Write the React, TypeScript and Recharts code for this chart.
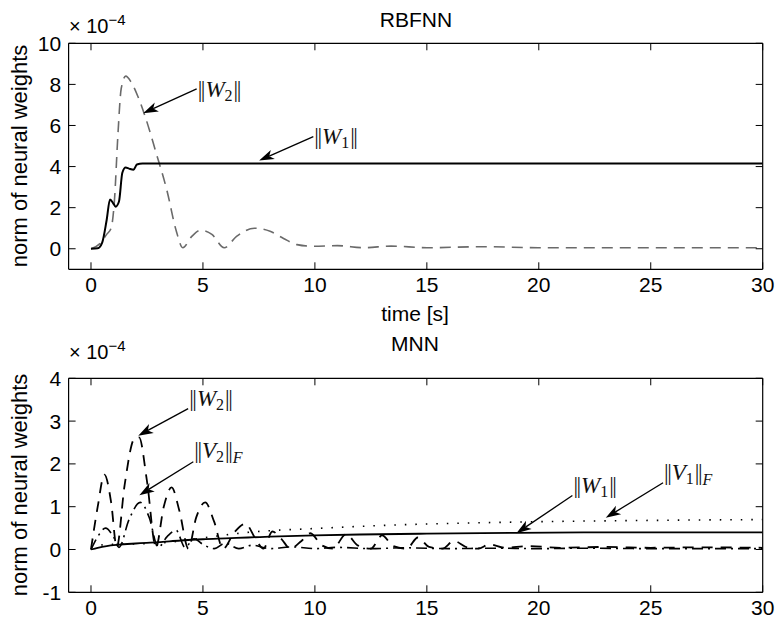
import React from 'react';
import { LineChart, Line, XAxis, YAxis, ReferenceLine } from 'recharts';

const FONT = "'Liberation Sans', Arial, Helvetica, sans-serif";
const SERIF = "'Liberation Serif', 'DejaVu Serif', serif";

// ticks
const timeTicks = [0, 5, 10, 15, 20, 25, 30];
const rbfTicks = [0, 2, 4, 6, 8, 10];
const mnnTicks = [-1, 0, 1, 2, 3, 4];

// RBFNN: ||W1|| (solid)
const rbfW1Time = [0, 0.3, 0.5, 0.7, 0.85, 1.0, 1.1, 1.25, 1.4, 1.55, 1.7, 1.9, 2.05, 2.3, 5, 10, 20, 30];
const rbfW1Val = [0, 0.02, 0.3, 1.4, 2.4, 2.2, 2.05, 2.3, 3.7, 3.95, 3.9, 3.85, 4.1, 4.15, 4.15, 4.15, 4.15, 4.15];

// RBFNN: ||W2|| (dashed grey)
const rbfW2Time = [0, 0.4, 0.7, 0.9, 1.05, 1.2, 1.35, 1.55, 1.8, 2.1, 2.4, 2.9, 3.4, 3.8, 4.1, 4.5, 4.9, 5.4, 5.95, 6.5, 7.3, 8.0, 8.6, 9.2, 9.9, 11, 12.2, 13.4, 15, 17.5, 20, 25, 30];
const rbfW2Val = [0, 0.25, 0.7, 1.0, 2.4, 5.5, 7.8, 8.4, 8.1, 7.4, 6.5, 4.7, 2.8, 0.9, 0.05, 0.6, 0.9, 0.7, 0.05, 0.6, 1.0, 0.85, 0.5, 0.2, 0.12, 0.15, 0.05, 0.13, 0.05, 0.1, 0.05, 0.05, 0.05];

// MNN: ||W1|| (solid)
const mnnW1Time = [0, 0.3, 0.7, 1.2, 2, 3, 4, 5, 6, 7, 8, 10, 12, 15, 19, 22, 30];
const mnnW1Val = [0, 0.04, 0.08, 0.11, 0.14, 0.17, 0.21, 0.24, 0.26, 0.28, 0.3, 0.33, 0.35, 0.37, 0.39, 0.4, 0.4];

// MNN: ||V1||_F (dotted)
const mnnV1Time = [0, 0.4, 1, 2, 3, 4, 5, 6, 7, 8, 10, 12, 14, 17, 20, 25, 30];
const mnnV1Val = [0.05, 0.1, 0.12, 0.13, 0.15, 0.2, 0.27, 0.34, 0.4, 0.44, 0.49, 0.54, 0.58, 0.62, 0.65, 0.68, 0.7];

// MNN: ||W2|| (dashed)
const mnnW2Time = [0, 0.3, 0.6, 0.9, 1.15, 1.5, 1.95, 2.15, 2.5, 2.9, 3.25, 3.6, 3.95, 4.35, 4.7, 5.1, 5.5, 5.9, 6.4, 6.9, 7.35, 7.7, 8.1, 8.5, 8.9, 9.4, 9.8, 10.3, 10.8, 11.4, 11.9, 12.5, 13.0, 13.5, 14.1, 14.6, 15.1, 15.7, 16.2, 16.8, 17.3, 17.8, 18.5, 19.5, 21, 23, 25, 27, 30];
const mnnW2Val = [0, 1.0, 1.75, 1.1, 0.05, 1.5, 2.6, 2.62, 1.6, 0.05, 1.0, 1.45, 0.9, 0.02, 0.75, 1.1, 0.65, 0.02, 0.4, 0.6, 0.25, 0.02, 0.42, 0.25, 0.02, 0.2, 0.38, 0.1, 0.02, 0.36, 0.1, 0.02, 0.33, 0.08, 0.02, 0.28, 0.06, 0.02, 0.2, 0.05, 0.02, 0.12, 0.04, 0.08, 0.04, 0.06, 0.04, 0.05, 0.04];

// MNN: ||V2||_F (dash-dot)
const mnnV2Time = [0, 0.3, 0.65, 1.0, 1.25, 1.7, 2.2, 2.6, 3.0, 3.4, 3.8, 4.2, 4.6, 5.0, 5.5, 6.0, 6.6, 7.2, 8, 9, 10, 11, 12.5, 14, 16, 18, 20, 22, 25, 30];
const mnnV2Val = [0, 0.3, 0.5, 0.3, 0.05, 0.7, 1.1, 0.75, 0.05, 0.3, 0.45, 0.05, 0.25, 0.12, 0.02, 0.15, 0.02, 0.1, 0.02, 0.06, 0.02, 0.05, 0.02, 0.04, 0.02, 0.03, 0.02, 0.03, 0.02, 0.02];

type Ann = { name: string; sub: string; extra?: string; tail: [number, number]; head: [number, number]; dy: number };

const rbfAnnotations: Ann[] = [
  { name: 'W', sub: '2', tail: [4.72, 7.78], head: [2.33, 6.6], dy: 8 },
  { name: 'W', sub: '1', tail: [9.93, 5.46], head: [7.51, 4.29], dy: 7 },
];
const mnnAnnotations: Ann[] = [
  { name: 'W', sub: '2', tail: [4.34, 3.29], head: [2.11, 2.66], dy: -3 },
  { name: 'V', sub: '2', extra: 'F', tail: [4.57, 2.05], head: [2.16, 1.27], dy: -4 },
  { name: 'W', sub: '1', tail: [21.5, 1.26], head: [19.0, 0.38], dy: -3 },
  { name: 'V', sub: '1', extra: 'F', tail: [25.55, 1.56], head: [22.99, 0.74], dy: -3 },
];

const pairs = (ts: number[], vs: number[]) => ts.map((t, i) => ({ t, v: vs[i] }));

function ArrowShape(props: any) {
  const { x1, y1, x2, y2, ann } = props;
  const dx = x2 - x1, dy = y2 - y1;
  const len = Math.hypot(dx, dy) || 1;
  const ux = dx / len, uy = dy / len;
  const nx = -uy, ny = ux;
  const L = 15, W = 5, notch = 4;
  const bx = x2 - ux * L, by = y2 - uy * L;
  const mx = x2 - ux * (L - notch), my = y2 - uy * (L - notch);
  const pts = [[x2, y2], [bx + nx * W, by + ny * W], [mx, my], [bx - nx * W, by - ny * W]];
  return (
    <g>
      <line x1={x1} y1={y1} x2={mx} y2={my} stroke="#000" strokeWidth={1.3} />
      <polygon points={pts.map((p) => p.join(',')).join(' ')} fill="#000" />
      <text x={x1 + 1} y={y1 + ann.dy} fontFamily={SERIF} fontSize={23} fill="#111">
        <tspan letterSpacing={-1.5}>||</tspan>
        <tspan fontStyle="italic" dx={1.5}>{ann.name}</tspan>
        <tspan fontSize={16} dy={4}>{ann.sub}</tspan>
        <tspan dy={-4} dx={1} letterSpacing={-1.5}>||</tspan>
        {ann.extra ? <tspan fontSize={16} fontStyle="italic" dy={5} dx={1.5}>{ann.extra}</tspan> : null}
      </text>
    </g>
  );
}

const tickStyle = { fill: '#000', fontSize: 21, fontFamily: FONT };
const axisLineStyle = { stroke: '#000', strokeWidth: 1.2 };
const tickLineStyle = { stroke: '#000', strokeWidth: 1 };
const Empty = () => <g />;

function Frame({ yDomain, yTicks, xHeight }: any) {
  return [
    <XAxis key="xb" xAxisId={0} dataKey="t" type="number" domain={[-1, 30]} ticks={timeTicks} allowDataOverflow interval={0}
      height={xHeight} tickSize={-7} tickMargin={14.4} tick={tickStyle} axisLine={axisLineStyle} tickLine={tickLineStyle} />,
    <XAxis key="xt" xAxisId="top" orientation="top" dataKey="t" type="number" domain={[-1, 30]} ticks={timeTicks} allowDataOverflow interval={0}
      height={1} tickSize={-7} tick={Empty} axisLine={axisLineStyle} tickLine={tickLineStyle} />,
    <YAxis key="yl" yAxisId={0} type="number" domain={yDomain} ticks={yTicks} allowDataOverflow interval={0}
      width={60} tickSize={-7} tickMargin={14.5} tick={tickStyle} axisLine={axisLineStyle} tickLine={tickLineStyle} />,
    <YAxis key="yr" yAxisId="right" orientation="right" type="number" domain={yDomain} ticks={yTicks} allowDataOverflow interval={0}
      width={1} tickSize={-7} tick={Empty} axisLine={axisLineStyle} tickLine={tickLineStyle} />,
  ];
}

function renderAnn(list: Ann[], prefix: string) {
  return list.map((a, i) => (
    <ReferenceLine key={prefix + i} xAxisId={0} yAxisId={0} ifOverflow="visible"
      segment={[{ x: a.tail[0], y: a.tail[1] }, { x: a.head[0], y: a.head[1] }]}
      shape={(p: any) => <ArrowShape {...p} ann={a} />} />
  ));
}

export default function App() {
  return (
    <div style={{ position: 'absolute', left: 0, top: 0, width: 776, height: 619, background: '#fff' }}>
      <div style={{ position: 'absolute', left: 0, top: 0 }}>
        <LineChart width={776} height={310} margin={{ top: 42.3, right: 12.3, bottom: 10.7, left: 8.6 }}>
          {Frame({ yDomain: [-1, 10], yTicks: rbfTicks, xHeight: 30 })}
          <Line data={pairs(rbfW2Time, rbfW2Val)} dataKey="v" type="monotone" stroke="#6a6a6a" strokeWidth={1.6}
            strokeDasharray="11 7" dot={false} activeDot={false} isAnimationActive={false} />
          <Line data={pairs(rbfW1Time, rbfW1Val)} dataKey="v" type="monotone" stroke="#000" strokeWidth={2}
            dot={false} activeDot={false} isAnimationActive={false} />
          {renderAnn(rbfAnnotations, 'r')}
        </LineChart>
      </div>
      <div style={{ position: 'absolute', left: 0, top: 310 }}>
        <LineChart width={776} height={309} margin={{ top: 67.3, right: 12.3, bottom: 0.7, left: 8.6 }}>
          {Frame({ yDomain: [-1, 4], yTicks: mnnTicks, xHeight: 26 })}
          <Line data={pairs(mnnV1Time, mnnV1Val)} dataKey="v" type="monotone" stroke="#000" strokeWidth={1.6}
            strokeDasharray="1.5 9" dot={false} activeDot={false} isAnimationActive={false} />
          <Line data={pairs(mnnV2Time, mnnV2Val)} dataKey="v" type="monotone" stroke="#000" strokeWidth={1.6}
            strokeDasharray="11 5 2 5" dot={false} activeDot={false} isAnimationActive={false} />
          <Line data={pairs(mnnW2Time, mnnW2Val)} dataKey="v" type="monotone" stroke="#000" strokeWidth={1.8}
            strokeDasharray="11 8" dot={false} activeDot={false} isAnimationActive={false} />
          <Line data={pairs(mnnW1Time, mnnW1Val)} dataKey="v" type="monotone" stroke="#000" strokeWidth={1.8}
            dot={false} activeDot={false} isAnimationActive={false} />
          {renderAnn(mnnAnnotations, 'm')}
        </LineChart>
      </div>
      <svg width={776} height={619} style={{ position: 'absolute', left: 0, top: 0, pointerEvents: 'none' }}>
        <g fontFamily={FONT} fill="#000">
          <text x={416} y={27} fontSize={21} textAnchor="middle">RBFNN</text>
          <text x={415} y={321} fontSize={21} textAnchor="middle">time [s]</text>
          <text x={415} y={351} fontSize={21} textAnchor="middle">MNN</text>
          <text x={69} y={33} fontSize={20}>× 10<tspan fontSize={15} dy={-8}>−4</tspan></text>
          <text x={69} y={359} fontSize={20}>× 10<tspan fontSize={15} dy={-8}>−4</tspan></text>
          <text x={27} y={156} fontSize={22} textAnchor="middle" transform="rotate(-90 27 156)">norm of neural weights</text>
          <text x={27} y={485} fontSize={22} textAnchor="middle" transform="rotate(-90 27 485)">norm of neural weights</text>
        </g>
      </svg>
    </div>
  );
}
